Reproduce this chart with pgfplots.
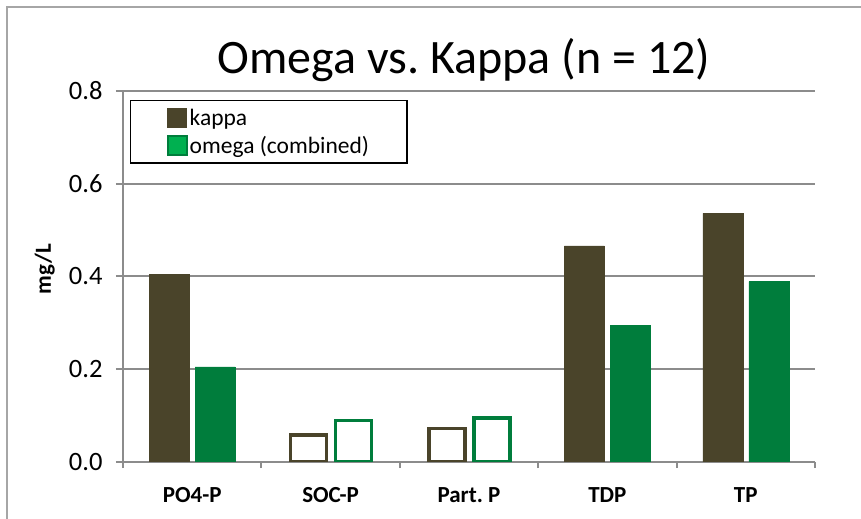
\documentclass[border=0pt]{standalone}
\usepackage{fontspec}
\setmainfont{Carlito}
\usepackage{pgfplots}
\pgfplotsset{compat=1.18}
\definecolor{kap}{HTML}{4A442A}
\definecolor{ome}{HTML}{007D3C}
\definecolor{omelight}{HTML}{00B050}
\definecolor{gridc}{HTML}{8C8C8C}
\definecolor{framec}{HTML}{A6A6A6}
\pgfplotsset{sqlegend/.style={legend image code/.code={\draw[##1] (0bp,-9.5bp) rectangle (19bp,9.5bp);}}}
\begin{document}
\begin{tikzpicture}
\path[use as bounding box] (0,0) rectangle (861bp,519bp);
\draw[framec, line width=1.5bp] (7bp,0) -- (7bp,512bp) -- (861bp,512bp);
\node[anchor=base, inner sep=0pt, font=\fontsize{48bp}{56bp}\selectfont] at (464bp,445bp) {Omega vs.\ Kappa (n = 12)};
\begin{axis}[
  at={(123bp,57bp)}, anchor=south west,
  scale only axis, width=692bp, height=371bp,
  xmin=-0.5, xmax=4.5, ymin=0, ymax=0.8,
  ytick={0,0.2,0.4,0.6,0.8},
  xtick={0,1,2,3,4},
  xticklabels={PO4-P,SOC-P,{Part.\ P},TDP,TP},
  minor xtick={-0.5,0.5,1.5,2.5,3.5,4.5},
  every major x tick/.style={draw=none},
  axis lines*=left,
  axis line style={gridc, line width=2bp},
  ymajorgrids, grid style={gridc, line width=2bp},
  tick align=outside,
  major tick length=7bp, minor tick length=6bp,
  tick style={gridc, line width=2bp},
  yticklabel style={font=\fontsize{26.5bp}{30bp}\selectfont, xshift=-10bp,
    /pgf/number format/fixed, /pgf/number format/fixed zerofill,
    /pgf/number format/precision=1, /pgf/number format/assume math mode=true},
  xticklabel style={font=\bfseries\fontsize{23bp}{28bp}\selectfont, yshift=-15bp},
  ylabel={mg/L},
  ylabel style={font=\bfseries\fontsize{23bp}{28bp}\selectfont, at={(axis description cs:-0.113,0.52)}, anchor=center},
  legend style={at={(0.0101,0.976)}, anchor=north west, draw=black, line width=1.5bp,
    inner xsep=36bp, inner ysep=6.5bp, font=\fontsize{23.5bp}{28bp}\selectfont,
    nodes={inner sep=2bp}, row sep=5bp},
  legend cell align=left,
]
\addlegendimage{sqlegend, fill=kap, draw=kap, line width=0.5bp}
\addlegendentry{kappa}
\addlegendimage{sqlegend, fill=omelight, draw=ome, line width=2bp}
\addlegendentry{omega (combined)}
\addplot[ybar, forget plot, fill=kap, draw=kap, line width=0.5bp, bar width=40bp, bar shift=-23bp]
  coordinates {(0,0.405) (3,0.466) (4,0.536)};
\addplot[ybar, forget plot, fill=ome, draw=ome, line width=0.5bp, bar width=40bp, bar shift=23bp]
  coordinates {(0,0.205) (3,0.295) (4,0.389)};
\addplot[ybar, forget plot, fill=white, draw=kap, line width=3.5bp, bar width=36bp, bar shift=-22bp]
  coordinates {(1,0.058) (2,0.072)};
\addplot[ybar, forget plot, fill=white, draw=ome, line width=3.5bp, bar width=36bp, bar shift=23bp]
  coordinates {(1,0.089) (2,0.095)};
\end{axis}
\end{tikzpicture}
\end{document}
